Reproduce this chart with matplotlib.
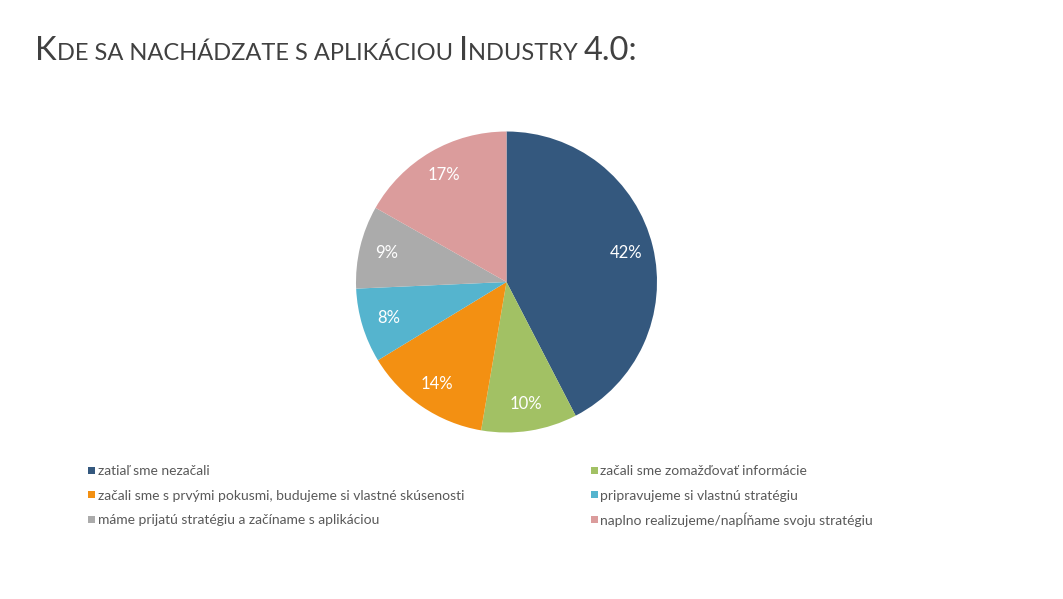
import matplotlib.pyplot as plt
from matplotlib.patches import Rectangle

labels = [
    "zatiaľ sme nezačali",
    "začali sme zomažďovať informácie",
    "začali sme s prvými pokusmi, budujeme si vlastné skúsenosti",
    "pripravujeme si vlastnú stratégiu",
    "máme prijatú stratégiu a začíname s aplikáciou",
    "naplno realizujeme/napĺňame svoju stratégiu",
]
# shares (labels show them rounded)
shares = [42.4, 10.3, 13.6, 8.0, 8.9, 16.8]
colors = ["#34587E", "#A2C164", "#F39012", "#55B4CE", "#ABABAB", "#DB9C9C"]

# title pieces: (text, big?) -> fake small caps
title_parts = [("K", True), ("DE SA NACHÁDZATE S APLIKÁCIOU ", False),
               ("I", True), ("NDUSTRY ", False), ("4.0:", True)]

W, H = 1063, 599
fig = plt.figure(figsize=(W / 100, H / 100), dpi=100)
plt.rcParams['font.family'] = ['Lato', 'DejaVu Sans']

# pie axes, centre and radius
cx, cy, r = 506.5, 282, 150.5
ax = fig.add_axes([(cx - r) / W, (H - cy - r) / H, 2 * r / W, 2 * r / H])
ax.pie(shares, colors=colors, startangle=90, counterclock=False,
       autopct=lambda p: f"{p:.0f}%", pctdistance=0.82, radius=1,
       textprops=dict(color="white", fontsize=12))
ax.set_xlim(-1, 1)
ax.set_ylim(-1, 1)
ax.set_aspect("equal")
ax.axis("off")

# title with small caps look
renderer = fig.canvas.get_renderer()
x = 35 / W
y = (H - 59.5) / H
for txt, big in title_parts:
    t = fig.text(x, y, txt, fontsize=23.5 if big else 17, color="#404040",
                 va="baseline", ha="left")
    bb = t.get_window_extent(renderer)
    x = bb.x1 / W

# legend drawn by hand so rows stay evenly spaced
col_x = [88, 591]
row_y = [470, 494.5, 519]
sq = 7
for i, (lab, c) in enumerate(zip(labels, colors)):
    px = col_x[i % 2]
    py = row_y[i // 2]
    fig.add_artist(Rectangle((px / W, (H - py - sq / 2) / H), sq / W, sq / H,
                             transform=fig.transFigure, facecolor=c,
                             edgecolor="none"))
    fig.text((px + sq + 2.5) / W, (H - py) / H, lab, fontsize=10,
             color="#595959", va="center_baseline", ha="left")

fig.savefig("out.png", dpi=100, facecolor="white")
